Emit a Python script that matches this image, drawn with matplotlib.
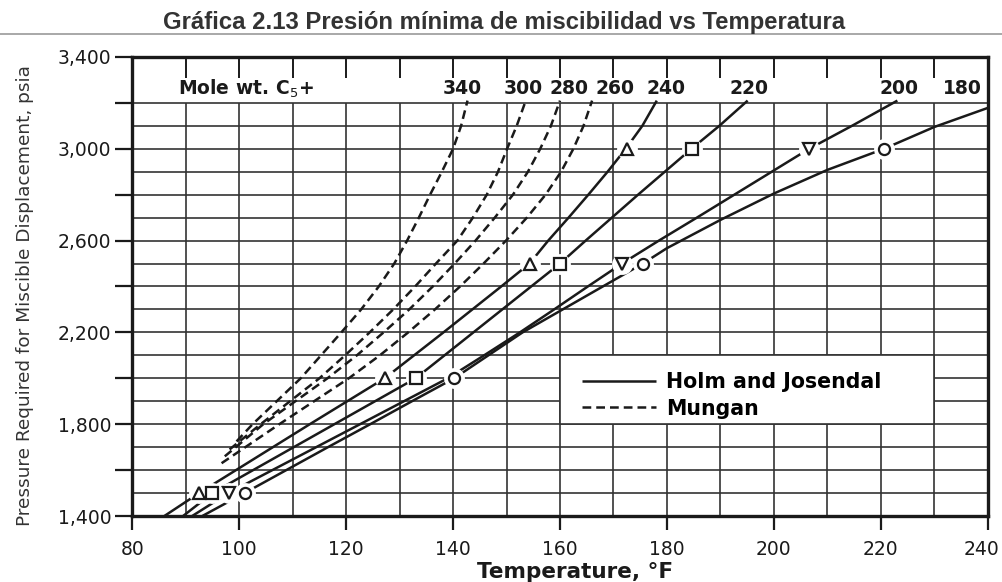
import matplotlib
matplotlib.use("Agg")
import matplotlib.pyplot as plt
from matplotlib.lines import Line2D
from matplotlib.patches import Rectangle
from matplotlib.transforms import ScaledTranslation

# ---------------- data ----------------
# Holm and Josendal (solid) -- mole wt. C5+ 240, 220, 200, 180
p_240 = [1400, 1500, 1600, 1700, 1800, 1900, 2000, 2100, 2200, 2300, 2400, 2500, 2600, 2700, 2800, 2900, 3000, 3100, 3210]
t_240 = [86.0, 92.5, 99.4, 106.3, 113.2, 120.2, 127.2, 132.7, 138.2, 143.6, 149.0, 154.3, 157.8, 161.6, 165.3, 168.9, 172.3, 175.4, 178.1]

p_220 = [1400, 1500, 1600, 1700, 1800, 1900, 2000, 2100, 2200, 2300, 2400, 2500, 2600, 2700, 2800, 2900, 3000, 3100, 3210]
t_220 = [89.5, 95.0, 102.6, 110.2, 117.8, 125.4, 133.0, 138.4, 143.8, 149.2, 154.6, 160.0, 164.8, 169.7, 174.6, 179.6, 184.6, 189.8, 195.1]

p_200 = [1400, 1500, 1600, 1700, 1800, 1900, 2000, 2100, 2200, 2300, 2400, 2500, 2600, 2700, 2800, 2900, 3000, 3100, 3210]
t_200 = [91.2, 98.0, 106.2, 114.4, 122.6, 130.8, 139.0, 145.8, 152.5, 158.9, 165.2, 171.6, 178.5, 185.6, 192.6, 199.6, 206.6, 214.6, 223.1]

p_180 = [1400, 1500, 1600, 1700, 1800, 1900, 2000, 2100, 2200, 2300, 2400, 2500, 2567, 2690, 2805, 2908, 3000, 3095, 3178]
t_180 = [93.1, 101.0, 108.8, 116.6, 124.5, 132.3, 140.2, 146.6, 153.0, 160.5, 168.0, 175.5, 180.0, 190.0, 200.0, 210.0, 220.6, 230.0, 240.0]

# Mungan (dashed) -- mole wt. C5+ 340, 300, 280, 260
p_340 = [1725, 1800, 1900, 2000, 2100, 2200, 2300, 2400, 2500, 2600, 2700, 2800, 2900, 3000, 3100, 3210]
t_340 = [99.5, 102.5, 107.0, 111.5, 115.3, 119.1, 122.8, 126.1, 129.0, 131.4, 133.6, 135.7, 137.9, 140.0, 141.5, 142.7]

p_300 = [1690, 1800, 1900, 2000, 2100, 2200, 2300, 2400, 2500, 2600, 2700, 2800, 2900, 3000, 3100, 3210]
t_300 = [98.2, 104.0, 109.5, 115.0, 119.8, 124.4, 128.8, 132.9, 136.8, 140.8, 143.7, 146.3, 148.4, 150.1, 151.9, 153.6]

p_280 = [1660, 1800, 1900, 2000, 2100, 2200, 2300, 2400, 2500, 2600, 2700, 2800, 2900, 3000, 3100, 3210]
t_280 = [97.3, 104.5, 110.5, 116.5, 122.0, 127.0, 131.8, 136.2, 140.3, 144.2, 147.8, 151.2, 154.0, 156.3, 158.3, 160.0]

p_260 = [1630, 1800, 1900, 2000, 2100, 2200, 2300, 2400, 2500, 2600, 2700, 2800, 2900, 3000, 3100, 3210]
t_260 = [96.7, 107.5, 114.0, 120.5, 126.3, 131.6, 136.6, 141.3, 145.7, 149.9, 153.8, 157.3, 160.2, 162.5, 164.4, 166.0]

# marked points on the Holm and Josendal curves
mk_p_240 = [1500, 2000, 2500, 3000]
mk_t_240 = [92.5, 127.2, 154.3, 172.6]
mk_p_220 = [1500, 2000, 2500, 3000]
mk_t_220 = [95.0, 133.0, 160.0, 184.6]
mk_p_200 = [1500, 2500, 3000]
mk_t_200 = [98.0, 171.6, 206.6]
mk_p_180 = [1500, 2000, 2500, 3000]
mk_t_180 = [101.0, 140.2, 175.5, 220.6]

# curve labels along the top
curve_labels = ["340", "300", "280", "260", "240", "220", "200", "180"]
label_temps = [141.8, 153.2, 161.6, 170.3, 179.8, 195.4, 223.5, 235.2]

x_ticks = [80, 100, 120, 140, 160, 180, 200, 220, 240]
y_ticks = [1400, 1800, 2200, 2600, 3000, 3400]
y_tick_labels = ["1,400", "1,800", "2,200", "2,600", "3,000", "3,400"]
y_minor = [1600, 2000, 2400, 2800, 3200]

title = "Gráfica 2.13 Presión mínima de miscibilidad vs Temperatura"
xlabel = "Temperature, °F"
ylabel = "Pressure Required for Miscible Displacement, psia"
legend_labels = ["Holm and Josendal", "Mungan"]

# ---------------- figure ----------------
W, H = 1003, 582
fig = plt.figure(figsize=(W / 100, H / 100), dpi=100)
L, R, T, B = 132.3, 987.7, 57, 516
ax = fig.add_axes([L / W, 1 - B / H, (R - L) / W, (B - T) / H])
ax.set_xlim(80, 240)
ax.set_ylim(1400, 3400)

ink = "#1a1a1a"
grid_c = "#333333"

# grid: every 10 F and 100 psi, only up to 3200 psi
ax.vlines(list(range(90, 240, 10)), 1400, 3200, color=grid_c, lw=1.2, zorder=1)
ax.hlines(list(range(1500, 3300, 100)), 80, 240, color=grid_c, lw=1.2, zorder=1)

# legend panel
ax.add_patch(Rectangle((160, 1800), 70, 300, facecolor="white", edgecolor=grid_c,
                       lw=1.2, zorder=2))

solid_kw = dict(color=ink, lw=1.8, zorder=3, solid_capstyle="butt")
dash_kw = dict(color=ink, lw=1.8, zorder=3, linestyle=(0, (3.5, 2.0)))

ax.plot(t_240, p_240, **solid_kw)
ax.plot(t_220, p_220, **solid_kw)
ax.plot(t_200, p_200, **solid_kw)
ax.plot(t_180, p_180, **solid_kw)
ax.plot(t_340, p_340, **dash_kw)
ax.plot(t_300, p_300, **dash_kw)
ax.plot(t_280, p_280, **dash_kw)
ax.plot(t_260, p_260, **dash_kw)

for mt, mp, m in [(mk_t_240, mk_p_240, "^"), (mk_t_220, mk_p_220, "s"),
                  (mk_t_200, mk_p_200, "v"), (mk_t_180, mk_p_180, "o")]:
    ax.plot(mt, mp, linestyle="none", marker="o", ms=15, mfc="white", mec="none", zorder=4)
    ax.plot(mt, mp, linestyle="none", marker=m, ms=8, mfc="white", mec=ink, mew=1.6, zorder=5)

# top labels
lab_font = dict(family="DejaVu Sans", size=13.5, weight="bold", color=ink)
for lab, tx in zip(curve_labels, label_temps):
    ax.text(tx, 3262, lab, ha="center", va="center", **lab_font)
ax.text(88.5, 3262, "Mole wt. C$_{5}$+", ha="left", va="center", **lab_font)

# legend
h_solid = Line2D([], [], **solid_kw)
h_dash = Line2D([], [], **dash_kw)
ax.legend([h_solid, h_dash], legend_labels, loc="upper left",
          bbox_to_anchor=(161.4, 2088), bbox_transform=ax.transData,
          frameon=False, handlelength=3.6, handletextpad=0.5, labelspacing=0.3,
          borderpad=0.2, prop=dict(family="DejaVu Sans", weight="bold", size=14.8))

# axes cosmetics
for s in ax.spines.values():
    s.set_linewidth(2.4)
    s.set_color(ink)
    s.set_zorder(6)
ax.set_xticks(x_ticks)
ax.set_xticklabels([str(v) for v in x_ticks])
ax.set_yticks(y_ticks)
ax.set_yticklabels(y_tick_labels)
ax.set_yticks(y_minor, minor=True)
ax.tick_params(axis="both", which="both", direction="out", color=ink, width=1.6,
               labelsize=13.5, labelcolor=ink)
ax.tick_params(axis="x", length=10, pad=7)
ax.tick_params(axis="y", which="both", length=12, pad=3)
for lbl in ax.get_xticklabels() + ax.get_yticklabels():
    lbl.set_family("DejaVu Sans")
# the last x label sits against the right edge in the reference
last = ax.get_xticklabels()[-1]
last.set_transform(last.get_transform() + ScaledTranslation(-6 / 100, 0, fig.dpi_scale_trans))

top = ax.secondary_xaxis("top")
top.set_xticks(list(range(90, 240, 10)))
top.tick_params(direction="in", length=15, width=1.4, color=ink, labeltop=False)
top.spines["top"].set_visible(False)

ax.set_xlabel(xlabel, family="DejaVu Sans", weight="bold", size=15.5, color=ink)
ax.xaxis.set_label_coords((575 - L) / (R - L), -(562 - B) / (B - T))
ax.set_ylabel(ylabel, family="DejaVu Sans", size=13.3, color="#333333")
ax.yaxis.set_label_coords(-(L - 34) / (R - L), 0.5 + (296 - (T + B) / 2) / -(B - T))

fig.text(0.503, 1 - 29 / H, title, ha="center", va="baseline",
         family="Liberation Sans", weight="bold", size=17.2, color="#333333")
fig.add_artist(Line2D([0, 1], [1 - 34 / H] * 2, color="#999999", lw=1.2))

fig.savefig("out.png", dpi=100)
